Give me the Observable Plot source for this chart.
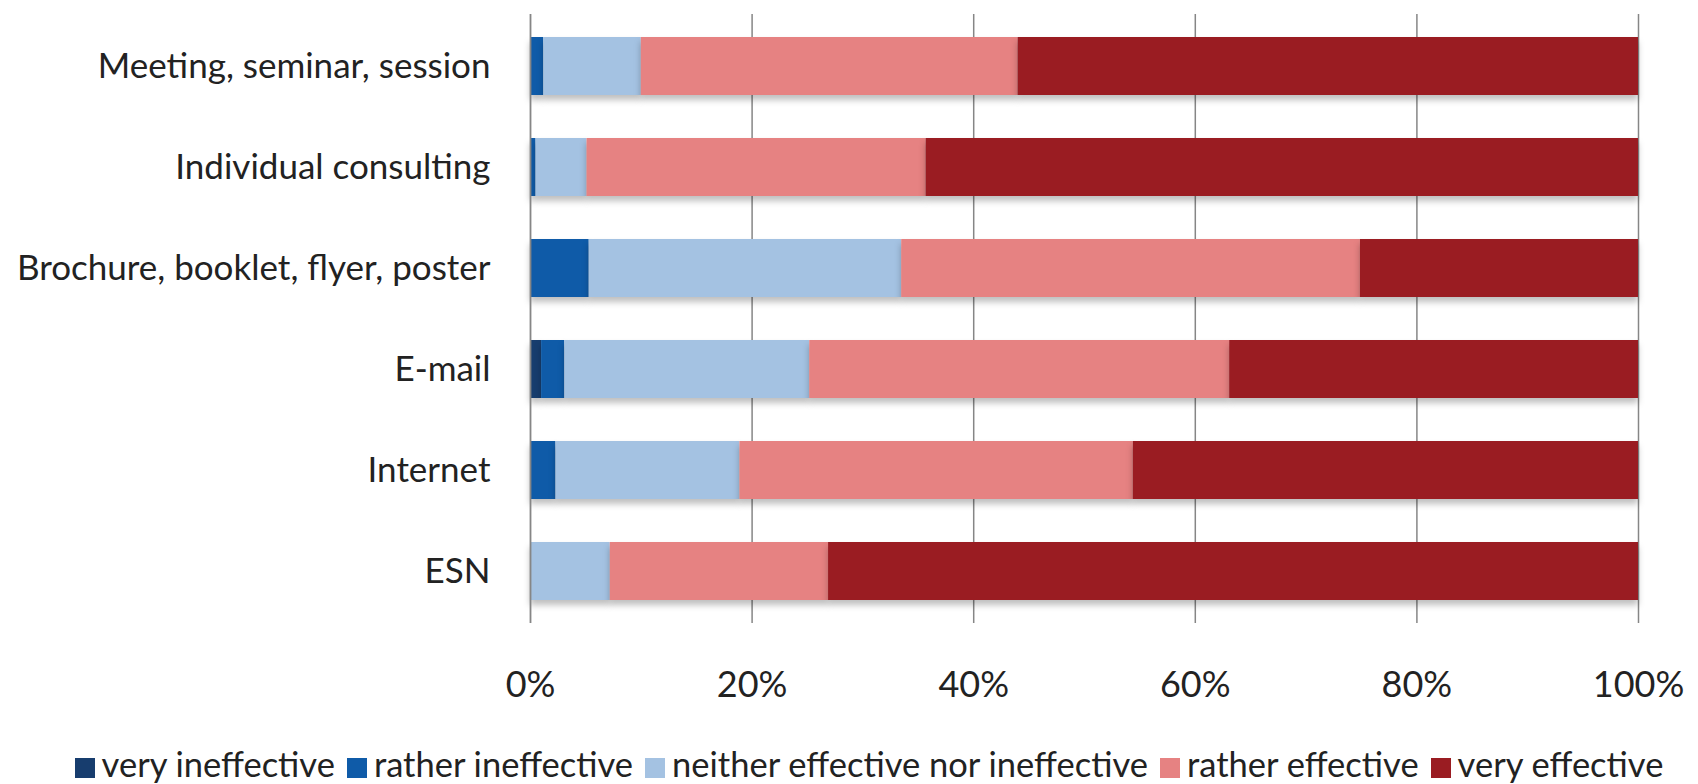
<!DOCTYPE html>
<html><head><meta charset="utf-8">
<script src="https://cdn.jsdelivr.net/npm/d3@7"></script>
<script src="https://cdn.jsdelivr.net/npm/@observablehq/plot@0.6"></script>
<style>
body{margin:0;background:#fff;font-family:Lato,"Open Sans",sans-serif;overflow:hidden;}
#legend{display:flex;justify-content:center;gap:12px;font-size:34.5px;line-height:40px;color:#222;margin-top:24px;margin-left:40px;white-space:nowrap;}
#legend span.sw{display:inline-block;width:20px;height:20px;margin-right:7px;vertical-align:-1px;}
</style></head><body>
<div id="chart"></div>
<div id="legend"></div>
<script>
const categories = ["Meeting, seminar, session","Individual consulting","Brochure, booklet, flyer, poster","E-mail","Internet","ESN"];
const series = ["very ineffective","rather ineffective","neither effective nor ineffective","rather effective","very effective"];
const colors = ["#173d6e","#0f5ba8","#a4c2e2","#e68282","#9a1c22"];
const veryIneffective   = [0,   0,   0,   1.0, 0,   0];
const ratherIneffective = [1.2, 0.5, 5.3, 2.1, 2.3, 0];
const neither           = [8.8, 4.6, 28.2,22.1,16.6,7.2];
const ratherEffective   = [34.0,30.6,41.4,37.9,35.5,19.7];
const veryEffective     = [56.0,64.3,25.1,36.9,45.6,73.1];
const xTicks = [0,20,40,60,80,100];

const cols = [veryIneffective, ratherIneffective, neither, ratherEffective, veryEffective];
const data = [];
categories.forEach((c,i)=>series.forEach((s,j)=>data.push({category:c, series:s, value:cols[j][i]})));

const chart = Plot.plot({
  width:1698, height:720,
  marginLeft:530, marginRight:60, marginTop:14, marginBottom:97,
  style:{fontFamily:"Lato,'Open Sans',sans-serif", fontSize:"36px", color:"#222"},
  x:{domain:[0,100], ticks:xTicks, tickFormat:d=>d+"%", tickSize:0, tickPadding:48, label:null, grid:false},
  y:{domain:categories, paddingInner:0.43, paddingOuter:0.215, tickSize:0, tickPadding:40, label:null},
  color:{domain:series, range:colors},
  marks:[
    Plot.ruleX(xTicks.slice(1), {stroke:"#868686", strokeOpacity:1, strokeWidth:1.5}),
    Plot.barX(data, Plot.stackX({y:"category", x:"value", fill:"series", order:null})),
    Plot.ruleX([0], {stroke:"#868686", strokeWidth:1.8})
  ]
});
chart.querySelectorAll("g[aria-label='y-axis tick label'] text").forEach(t=>t.style.fontSize="35px");
chart.querySelectorAll("g[aria-label='bar'] rect").forEach(r=>r.style.filter="drop-shadow(0px 5px 3px rgba(0,0,0,0.25))");
document.getElementById("chart").appendChild(chart);

const lg = d3.select("#legend");
series.forEach((s,i)=>{
  const it = lg.append("div");
  it.append("span").attr("class","sw").style("background",colors[i]);
  it.append("span").text(s);
});
</script>
</body></html>
